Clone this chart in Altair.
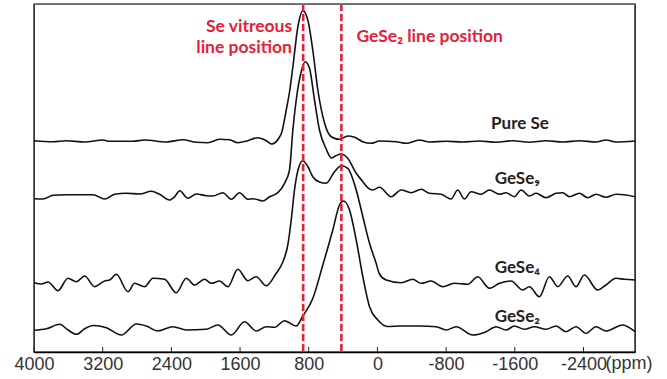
import altair as alt
import pandas as pd

# ---------------- data ----------------
# chemical shift (ppm) and intensity (arbitrary units, stacked offsets)
pure_se_ppm = [4000, 3779, 3623, 3410, 3197, 3119, 2848, 2712, 2459, 2266, 2110, 1975, 1839, 1722,
               1626, 1509, 1393, 1295, 1233, 1140, 1117, 1062, 1024, 985, 927, 869, 811, 753, 694,
               616, 538, 442, 345, 267, 171, 73, -24, -218, -335, -490, -606, -800, -994, -1188,
               -1382, -1575, -1770, -1964, -2158, -2352, -2546, -2662, -2779, -3000]
pure_se_int = [211.3, 210.3, 211.3, 210, 212, 210.7, 210.7, 212, 210, 212.3, 209.7, 209.3, 212.7, 212.3,
               209.3, 211.3, 214.3, 211.3, 208, 215, 219, 242, 260, 285, 325, 341.3, 332, 302, 262,
               229, 215.3, 212.7, 216, 214.7, 210.3, 208.7, 211, 210.3, 208.7, 212, 210, 210.7, 210, 211,
               209.7, 211.3, 209.7, 211.3, 210, 211.3, 210, 212, 210, 211]

gese9_ppm = [4000, 3895, 3779, 3623, 3313, 3177, 3061, 2925, 2770, 2634, 2537, 2421, 2362, 2304,
             2208, 2110, 1993, 1917, 1800, 1702, 1606, 1509, 1451, 1335, 1257, 1160, 1082, 1024,
             985, 946, 888, 841, 791, 733, 675, 597, 535, 488, 422, 349, 247, 170, 92, 54, -24,
             -160, -276, -393, -509, -606, -742, -858, -935, -1013, -1091, -1207, -1304, -1421,
             -1499, -1595, -1673, -1770, -1848, -1964, -2080, -2158, -2235, -2352, -2449, -2546,
             -2662, -2779, -2895, -3000]
gese9_int = [153.3, 153, 156.7, 157.3, 157.3, 153, 157.7, 158.7, 158, 160.7, 157.7, 152, 155.3, 161.3,
             153.7, 158, 156.3, 156, 159.3, 152.7, 159.3, 152.7, 153.3, 151, 155.3, 159.3, 168.7, 182,
             222, 252, 280.3, 290.3, 283.7, 252, 222, 203, 194, 196, 198, 194, 178.7, 170.3, 163, 162, 164.7,
             155.3, 162, 159.3, 162.7, 158.7, 157.7, 153, 162, 153, 160.3, 157.7, 162, 157.7,
             159.3, 155.3, 162, 156, 158.7, 154.3, 158.7, 159.3, 155.3, 158.7, 154.3, 157.7,
             154.7, 157.7, 157, 155.3]

gese4_ppm = [4000, 3914, 3837, 3721, 3604, 3507, 3410, 3294, 3177, 3119, 3041, 2906, 2828, 2712,
             2615, 2479, 2343, 2226, 2130, 2013, 1935, 1839, 1742, 1626, 1509, 1412, 1295, 1179,
             1102, 1044, 1004, 966, 925, 869, 814, 753, 675, 597, 500, 422, 345, 247, 170, 92, 15,
             -24, -102, -276, -411, -509, -626, -761, -897, -1052, -1168, -1304, -1421, -1557,
             -1692, -1770, -1886, -2003, -2100, -2216, -2313, -2410, -2565, -2662, -2779, -2875, -3000]
gese4_int = [69.3, 68, 70, 61.3, 73.7, 70.3, 76, 65.3, 71, 72, 77.7, 60.3, 68.7, 65.3,
             73.7, 72.7, 59.3, 73.7, 67, 72.7, 68.7, 71, 65.3, 82.7, 71.3, 75.3, 66.3, 78.7,
             90, 107, 132, 162, 182, 191.3, 186, 175.3, 170, 168.7, 180.3, 186.3, 183.7, 162, 135.3,
             108.7, 88.7, 78, 72, 69.3, 72.7, 68.7, 71, 65.3, 68.7, 67.7, 75.3, 63.7, 68.7, 71,
             62, 65.3, 55.3, 75.3, 65.3, 76, 65.3, 77, 62, 67, 73.7, 72.7, 72]

gese2_ppm = [4000, 3856, 3701, 3604, 3507, 3410, 3313, 3157, 2983, 2808, 2692, 2557, 2382, 2226,
             1993, 1858, 1702, 1548, 1412, 1295, 1198, 1082, 946, 869, 753, 636, 520, 442, 395, 325,
             247, 170, 92, -5, -117, -276, -490, -684, -800, -917, -1110, -1266, -1382, -1499,
             -1595, -1712, -1828, -1964, -2080, -2197, -2313, -2430, -2546, -2662, -2856, -3000]
gese2_int = [21.7, 23.2, 27.7, 22, 17.7, 23.2, 26.5, 24.3, 17, 28, 26, 21, 25.3, 22,
             22.7, 27, 17, 30.3, 21, 25.3, 24.7, 31.3, 26, 36, 53.5, 87, 122, 147, 151, 142,
             112, 75.3, 45.3, 32, 25.5, 26, 26, 25.3, 22, 25.3, 17, 20.3, 25.3, 22,
             26, 22.7, 25.3, 22.7, 26, 20.3, 25.3, 18.7, 25.3, 21, 27, 20.3]

line_positions_ppm = [865, 420]
tick_values = [4000, 3200, 2400, 1600, 800, 0, -800, -1600, -2400]

series_names = ["Pure Se", "GeSe₉", "GeSe₄", "GeSe₂"]
series_label_ppm = [-1324, -1366, -1366, -1366]
series_label_int = [223, 168, 79.3, 30.3]

red_center_text = ["Se vitreous", "line position"]
red_center_ppm = [1495, 1553]
red_center_int = [320, 299]
red_left_text = ["GeSe₂ line position"]
red_left_ppm = [244]
red_left_int = [310]

# ---------------- build tables ----------------
rows = []
for name, xs, ys in zip(series_names, [pure_se_ppm, gese9_ppm, gese4_ppm, gese2_ppm],
                        [pure_se_int, gese9_int, gese4_int, gese2_int]):
    for i, (x, y) in enumerate(zip(xs, ys)):
        rows.append({"series": name, "ppm": x, "intensity": y, "idx": i})
spectra = pd.DataFrame(rows)

RED = "#E5203A"
W, H = 601, 348

xscale = alt.Scale(domain=[4000, -3000], nice=False, zero=False)
yscale = alt.Scale(domain=[0, 348], nice=False, zero=False)

xaxis = alt.Axis(values=tick_values, labelExpr="toString(datum.value)", title=None, grid=False,
                 ticks=False, domain=True, domainColor="#000", domainWidth=1.4,
                 labelFont="Liberation Sans", labelFontSize=18, labelColor="#333",
                 labelPadding=3, labelFlush=False, labelOverlap=False)

lines = alt.Chart(spectra).mark_line(color="#111", strokeWidth=1.6, interpolate="monotone").encode(
    x=alt.X("ppm:Q", scale=xscale, axis=xaxis),
    y=alt.Y("intensity:Q", scale=yscale, axis=None),
    detail="series:N",
    order=alt.Order("idx:Q"),
)

ref = alt.Chart(pd.DataFrame({"ppm": line_positions_ppm})).mark_rule(
    color=RED, strokeWidth=2.6, strokeDash=[7, 3]
).encode(x=alt.X("ppm:Q", scale=xscale))

ticks = alt.Chart(pd.DataFrame({"ppm": tick_values})).mark_rule(color="#222", strokeWidth=1).encode(
    x=alt.X("ppm:Q", scale=xscale), y=alt.value(H - 5), y2=alt.value(H)
)

top_line = alt.Chart(pd.DataFrame({"a": [0]})).mark_rule(color="#777", strokeWidth=1.4).encode(
    x=alt.value(0), x2=alt.value(W), y=alt.value(0)
)

series_labels = alt.Chart(pd.DataFrame({"t": series_names, "ppm": series_label_ppm,
                                        "intensity": series_label_int})).mark_text(
    font="Lato", fontWeight="bold", fontSize=17, color="#222", align="left", baseline="alphabetic"
).encode(x=alt.X("ppm:Q", scale=xscale), y=alt.Y("intensity:Q", scale=yscale), text="t:N")

red_center = alt.Chart(pd.DataFrame({"t": red_center_text, "ppm": red_center_ppm,
                                     "intensity": red_center_int})).mark_text(
    font="Lato", fontWeight="bold", fontSize=17.5, color=RED, align="center", baseline="alphabetic"
).encode(x=alt.X("ppm:Q", scale=xscale), y=alt.Y("intensity:Q", scale=yscale), text="t:N")

red_left = alt.Chart(pd.DataFrame({"t": red_left_text, "ppm": red_left_ppm,
                                   "intensity": red_left_int})).mark_text(
    font="Lato", fontWeight="bold", fontSize=17.5, color=RED, align="left", baseline="alphabetic"
).encode(x=alt.X("ppm:Q", scale=xscale), y=alt.Y("intensity:Q", scale=yscale), text="t:N")

ppm_unit = alt.Chart(pd.DataFrame({"ppm": [tick_values[-1]], "t": ["(ppm)"]})).mark_text(
    font="Liberation Sans", fontSize=18, color="#333", align="left", baseline="top", dx=22
).encode(x=alt.X("ppm:Q", scale=xscale), y=alt.value(H + 3), text="t:N")

chart = alt.layer(lines, ref, ticks, top_line, series_labels, red_left, red_center, ppm_unit).properties(
    width=W, height=H,
    padding={"left": 34, "top": 4, "right": 32, "bottom": 27},
    autosize=alt.AutoSizeParams(type="none"),
).configure_view(stroke="#000", strokeWidth=1.4)

chart.save("out.html", embed_options={"renderer": "svg", "actions": False})
